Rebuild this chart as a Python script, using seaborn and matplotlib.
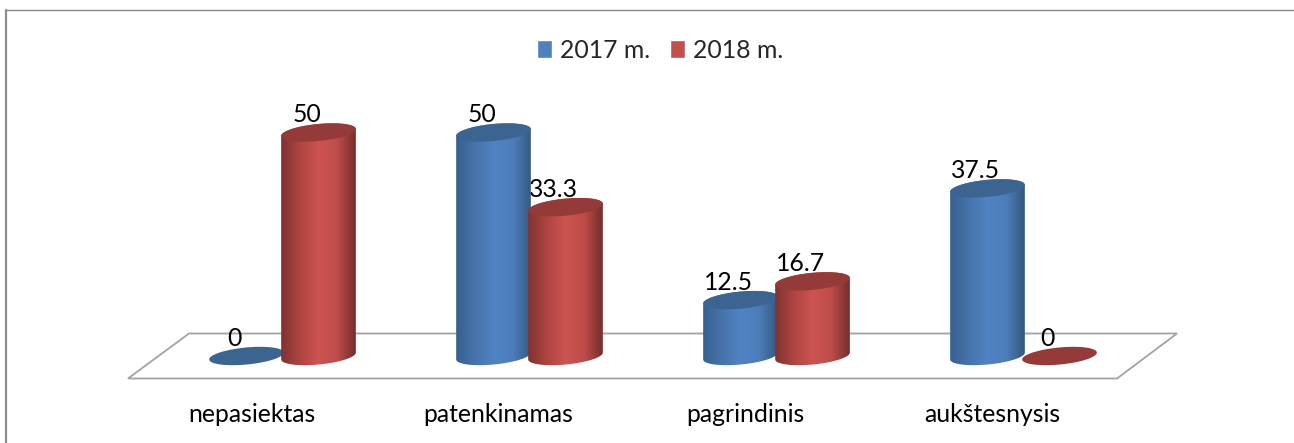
import numpy as np
import pandas as pd
import matplotlib
matplotlib.use('Agg')
import matplotlib.pyplot as plt
from matplotlib.colors import LinearSegmentedColormap
from matplotlib.lines import Line2D
from matplotlib.patches import Polygon
from matplotlib.path import Path
from matplotlib.transforms import ScaledTranslation
import seaborn as sns

# Dados
kategorijos = ['nepasiektas', 'patenkinamas', 'pagrindinis', 'aukštesnysis']
metai_2017 = [0, 50, 12.5, 37.5]
metai_2018 = [50, 33.3, 16.7, 0]
etiketes_2017 = ['0', '50', '12.5', '37.5']
etiketes_2018 = ['50', '33.3', '16.7', '0']
metai = ['2017 m.', '2018 m.']

df = pd.DataFrame({
    'kategorija': kategorijos * 2,
    'metai': [metai[0]] * 4 + [metai[1]] * 4,
    'reiksme': metai_2017 + metai_2018,
})

W, H = 1294, 443
PX_X = 247.0   # pixels per category
PX_Y = 4.47    # pixels per value unit
A, B, KAMPAS = 37.5, 8.5, np.radians(5.5)  # cylinder cap ellipse, in pixels

sns.set_theme(style='white')
plt.rcParams['font.family'] = ['Lato', 'DejaVu Sans']

fig = plt.figure(figsize=(W / 100, H / 100), dpi=100)
# axes run from y=20 to the front of the floor, y=379
ax = fig.add_axes([0, (H - 379) / H, 1, (379 - 20) / H])

sns.barplot(data=df, x='kategorija', y='reiksme', hue='metai', saturation=1,
            palette=['#4f81bd', '#c0504d'], width=0.583, gap=0, ax=ax)

x0 = -282.5 / PX_X
ax.set_xlim(x0, x0 + W / PX_X)
ax.set_ylim((356 - 379) / PX_Y, (356 - 20) / PX_Y)
xlim, ylim = ax.get_xlim(), ax.get_ylim()


def elipse(cx, y, t):
    px = A * np.cos(t) * np.cos(KAMPAS) - B * np.sin(t) * np.sin(KAMPAS)
    py = A * np.cos(t) * np.sin(KAMPAS) + B * np.sin(t) * np.cos(KAMPAS)
    return np.column_stack([cx + px / PX_X, y + py / PX_Y])


spalvos = [
    (['#37608f', '#4673aa', '#5083c3', '#4d7eba', '#34587f'], '#3c6491'),
    (['#80322f', '#ae4542', '#cc5451', '#be4d4a', '#742e2c'], '#943a38'),
]
etiketes = [etiketes_2017, etiketes_2018]
gradientas = np.linspace(0, 1, 128).reshape(1, -1)

for i, konteineris in enumerate(ax.containers):
    cmap = LinearSegmentedColormap.from_list(f'cil{i}', spalvos[i][0])
    virsus = spalvos[i][1]
    for j, bar in enumerate(konteineris):
        bar.set_visible(False)
        cx = bar.get_x() + bar.get_width() / 2
        v = bar.get_height()
        z = 3 + i + j * 0.1
        if v > 0:
            apacia = elipse(cx, 0, np.linspace(np.pi, 2 * np.pi, 60))
            virsutine = elipse(cx, v, np.linspace(0, np.pi, 60))
            siena = np.vstack([apacia, virsutine, apacia[:1]])
            img = ax.imshow(gradientas, cmap=cmap, aspect='auto', zorder=z,
                            extent=[cx - A / PX_X, cx + A / PX_X, -B * 2 / PX_Y, v + B * 2 / PX_Y])
            img.set_clip_path(Path(siena), ax.transData)
        ax.add_patch(Polygon(elipse(cx, v, np.linspace(0, 2 * np.pi, 120)), closed=True,
                             facecolor=virsus, edgecolor='none', zorder=z + 0.01))
        ax.annotate(etiketes[i][j], (cx, v), xytext=(-12, 17.5), textcoords='offset pixels',
                    ha='center', va='center', fontsize=17.8, color='black', zorder=2.5)

ax.set_xlim(xlim)
ax.set_ylim(ylim)

# floor of the 3D plot
grindys = [(128, 378.5), (189, 333.5), (1177, 333.5), (1117, 378.5)]
ax.add_patch(Polygon([(x / W, 1 - y / H) for x, y in grindys], closed=True, transform=fig.transFigure,
                     facecolor='white', edgecolor='#a3a3a3', linewidth=1.3, clip_on=False, zorder=1))

# chart frame
fig.add_artist(Line2D([6 / W, 6 / W], [0, 1 - 9.5 / H], color='#8c8c8c', linewidth=1.6))
fig.add_artist(Line2D([6 / W, 1], [1 - 9.5 / H] * 2, color='#868686', linewidth=1.0))

ax.set_xlabel('')
ax.set_ylabel('')
ax.set_yticks([])
ax.set_xticks(range(4), kategorijos)
ax.tick_params(axis='x', length=0, pad=17, labelsize=17.8, labelcolor='black')
# labels sit left of the groups, because of the floor's perspective
poslinkis = ScaledTranslation(-31 / 100, 0, fig.dpi_scale_trans)
for label in ax.get_xticklabels():
    label.set_transform(label.get_transform() + poslinkis)
sns.despine(ax=ax, left=True, bottom=True)

handles, labels = ax.get_legend_handles_labels()
ax.legend(handles, labels, loc='center', bbox_to_anchor=(660 / W, 1 - (50 - 20) / (379 - 20)), ncol=2,
          frameon=False, fontsize=17.8, handlelength=0.62, handleheight=0.7,
          handletextpad=0.32, columnspacing=0.78, borderpad=0)

fig.savefig('out.png', dpi=100)
